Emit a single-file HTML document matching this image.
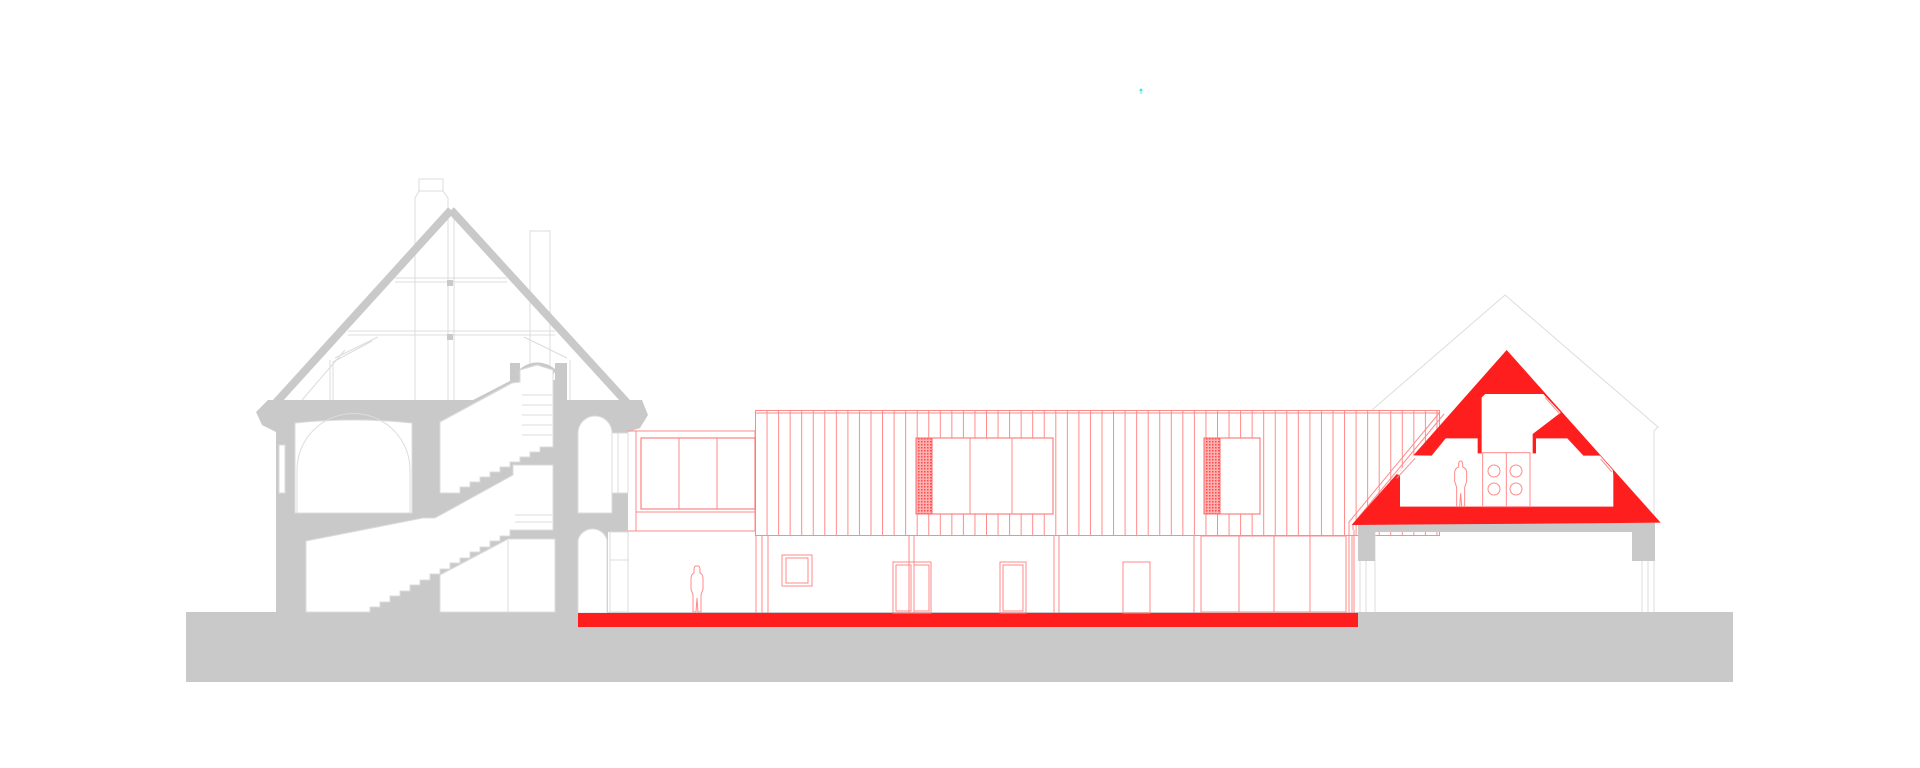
<!DOCTYPE html>
<html><head><meta charset="utf-8"><style>
html,body{margin:0;padding:0;background:#fff;width:1920px;height:768px;overflow:hidden}
svg{display:block}
</style></head><body>
<svg width="1920" height="768" viewBox="0 0 1920 768" xmlns="http://www.w3.org/2000/svg">
<defs>
<pattern id="st" patternUnits="userSpaceOnUse" x="755" y="0" width="11.55" height="10">
<line x1="0.5" y1="0" x2="0.5" y2="10" stroke="#ff8a8a" stroke-width="1"/>
</pattern>
<pattern id="ht" patternUnits="userSpaceOnUse" width="3" height="3">
<rect width="3" height="3" fill="#ffb0b0"/><rect width="1.5" height="1.5" fill="#ff4a4a"/>
</pattern>
</defs>

<!-- ground -->
<rect x="186" y="612" width="1547" height="70" fill="#c9c9c9"/>

<!-- LEFT OLD BUILDING -->
<g stroke="#dcdcdc" fill="none" stroke-width="1">
<polyline points="415,400 415,198 419,191 419,179 443,179 443,191 448,198 448,400"/>
<line x1="419" y1="191" x2="443" y2="191"/>
<rect x="530" y="231" width="20" height="165"/>
<line x1="395" y1="278" x2="507" y2="278"/><line x1="395" y1="282" x2="507" y2="282"/>
<line x1="348" y1="331" x2="555" y2="331"/><line x1="348" y1="335" x2="555" y2="335"/>
<line x1="448" y1="212" x2="448" y2="400"/><line x1="454" y1="212" x2="454" y2="400"/>
<line x1="378" y1="337" x2="335" y2="358"/><line x1="372" y1="341" x2="333" y2="362"/>
<line x1="330" y1="360" x2="330" y2="400"/><line x1="333" y1="362" x2="333" y2="400"/>
<line x1="524" y1="337" x2="567" y2="358"/>
<line x1="302" y1="400" x2="345" y2="350"/>
<line x1="570" y1="360" x2="570" y2="400"/>
</g>
<g stroke="#c9c9c9" stroke-width="8" stroke-linecap="butt" fill="none">
<line x1="451" y1="210" x2="262" y2="418"/>
<line x1="451" y1="210" x2="641" y2="418"/>
</g>
<rect x="447" y="280" width="6" height="6" fill="#c9c9c9"/>
<rect x="447" y="334" width="6" height="6" fill="#c9c9c9"/>

<polygon fill="#c9c9c9" points="256,412 268,400 473,400 510,381 510,363 520,363 520,380 555,380 555,363 567,363 567,400 642,400 648,415 640,428 628,432 628,532 608,532 608,613 276,613 276,432 262,425"/>
<path d="M520,372 Q537,358 555,372" stroke="#c9c9c9" stroke-width="5" fill="none"/>

<g fill="#fff" stroke="#dcdcdc" stroke-width="1">
<path d="M295,423 Q353,417 412,423 L412,513 L295,513 Z"/>
<path d="M297,513 L297,470 A56,56 0 0 1 410,470 L410,513" fill="none"/>
<polygon points="440,422 512,383 520,382 520,370 537,365 553,370 553,447 540,447 540,452 530,452 530,457 520,457 520,462 510,462 510,467 500,467 500,472 490,472 490,477 480,477 480,482 470,482 470,487 460,487 460,493 440,493"/>
<polygon points="306,541 423,518 435,518 513,475 513,465 553,465 553,530 510,530 510,536 500,536 500,541 490,541 490,547 480,547 480,552 470,552 470,558 460,558 460,563 450,563 450,569 440,569 440,574 430,574 430,580 420,580 420,585 410,585 410,591 400,591 400,596 390,596 390,602 380,602 380,607 370,607 370,612 306,612"/>
<polygon points="440,575 508,539 555,539 555,612 440,612"/>
<path d="M578,513 L578,433 A17,17 0 0 1 612,433 L612,513 Z"/>
<path d="M578,613 L578,540 A15,15 0 0 1 607,540 L607,613 Z"/>
<rect x="612" y="433" width="16" height="60"/>
<rect x="279" y="445" width="6" height="48"/>
</g>
<g stroke="#dcdcdc" stroke-width="1">
<line x1="522" y1="395" x2="552" y2="395"/><line x1="522" y1="405" x2="552" y2="405"/><line x1="522" y1="415" x2="552" y2="415"/><line x1="522" y1="425" x2="552" y2="425"/><line x1="522" y1="435" x2="552" y2="435"/>
<line x1="515" y1="515" x2="552" y2="515"/><line x1="515" y1="522" x2="552" y2="522"/>
<line x1="508" y1="540" x2="508" y2="612"/>
<line x1="618" y1="433" x2="618" y2="493"/>
<rect x="610" y="532" width="18" height="80" fill="none"/>
<line x1="610" y1="560" x2="628" y2="560"/>
</g>

<!-- RED SLAB -->
<rect x="578" y="613" width="780" height="14" fill="#ff1e1e"/>

<!-- MIDDLE VOLUME -->
<rect x="755" y="410" width="685" height="126" fill="url(#st)"/>
<g fill="none" stroke="#ff8a8a" stroke-width="1">
<rect x="755.5" y="410.5" width="684" height="125"/>
<line x1="755" y1="413" x2="1440" y2="413"/>
</g>
<rect x="916" y="438" width="137" height="76" fill="#fff" stroke="#ff6a6a"/>
<rect x="916" y="438" width="16" height="76" fill="url(#ht)" stroke="#ff6a6a"/>
<line x1="970" y1="438" x2="970" y2="514" stroke="#ff8a8a"/>
<line x1="1012" y1="438" x2="1012" y2="514" stroke="#ff8a8a"/>
<rect x="1204" y="438" width="56" height="76" fill="#fff" stroke="#ff6a6a"/>
<rect x="1204" y="438" width="16" height="76" fill="url(#ht)" stroke="#ff6a6a"/>
<g fill="#fff" stroke="#ff8a8a" stroke-width="1">
<rect x="636" y="431" width="119" height="100"/>
<rect x="641" y="438" width="114" height="71" stroke="#ff6a6a"/>
</g>
<g stroke="#ff8a8a" stroke-width="1">
<line x1="679" y1="438" x2="679" y2="509"/><line x1="717" y1="438" x2="717" y2="509"/>
<line x1="636" y1="512" x2="755" y2="512"/>
<line x1="628" y1="431" x2="636" y2="431"/>
<line x1="628" y1="531" x2="636" y2="531"/>
</g>
<!-- lower floor -->
<g stroke="#ff8a8a" stroke-width="1" fill="none">
<line x1="756" y1="536" x2="756" y2="613"/><line x1="762" y1="536" x2="762" y2="613"/><line x1="768" y1="536" x2="768" y2="613"/>
<line x1="909" y1="536" x2="909" y2="613"/><line x1="914" y1="536" x2="914" y2="613"/>
<line x1="1054" y1="536" x2="1054" y2="613"/><line x1="1059" y1="536" x2="1059" y2="613"/>
<line x1="1194" y1="536" x2="1194" y2="613"/><line x1="1201" y1="536" x2="1201" y2="613"/>
<line x1="1346" y1="536" x2="1346" y2="613"/><line x1="1352" y1="536" x2="1352" y2="613"/>
<rect x="1201" y="536" width="145" height="76"/>
<line x1="1239" y1="536" x2="1239" y2="612"/><line x1="1274" y1="536" x2="1274" y2="612"/><line x1="1310" y1="536" x2="1310" y2="612"/>
<rect x="782" y="555" width="30" height="31"/><rect x="786" y="558" width="22" height="25"/>
<rect x="893" y="562" width="38" height="51"/><rect x="896" y="565" width="15" height="46"/><rect x="914" y="565" width="15" height="46"/>
<rect x="1000" y="562" width="26" height="51"/><rect x="1003" y="565" width="20" height="46"/>
<rect x="1123" y="562" width="27" height="51"/>
<path d="M696,566 q-2,0 -2,4 l0,3 q-3,1 -3,6 l0,10 l2,6 l0,17 l3,0 l1,-14 l1,14 l3,0 l0,-17 l2,-6 l0,-10 q0,-5 -3,-6 l0,-3 q0,-4 -2,-4 z"/>
</g>

<!-- RIGHT BUILDING -->
<g stroke="#dcdcdc" fill="none" stroke-width="1">
<polyline points="1372,410 1505,295 1658,427 1654,431 1654,612"/>
<line x1="1360" y1="532" x2="1360" y2="612"/><line x1="1366" y1="532" x2="1366" y2="612"/><line x1="1375" y1="532" x2="1375" y2="612"/>
<line x1="1642" y1="532" x2="1642" y2="612"/><line x1="1648" y1="532" x2="1648" y2="612"/>
</g>
<g fill="#c9c9c9">
<rect x="1358" y="523" width="297" height="9"/>
<rect x="1358" y="523" width="17" height="38"/>
<rect x="1632" y="523" width="23" height="38"/>
</g>
<g stroke="#ff8a8a" fill="none" stroke-width="1">
<polyline points="1349,527 1349,522 1440,412"/>
<polyline points="1353,530 1353,524 1444,414"/>
<line x1="1349" y1="527" x2="1349" y2="613"/><line x1="1354" y1="530" x2="1354" y2="613"/>
</g>
<g transform="translate(1330,280) scale(0.33333)">
<polygon points="530,210 992,728 65,735" fill="#ff1e1e"/>
<polygon fill="#fff" points="210,680 210,585 200,583 250,526 305,527 347,475 443,475 443,520 455,520 455,352 466,342 640,342 692,398 608,462 608,520 618,520 618,475 712,475 760,527 810,527 848,570 850,585 850,680"/>
<g stroke="#ff8a8a" stroke-width="3" fill="none">
<line x1="200" y1="595" x2="255" y2="535"/>
<line x1="645" y1="352" x2="690" y2="402"/>
<line x1="812" y1="537" x2="845" y2="575"/>
<rect x="458" y="518" width="142" height="162"/>
<line x1="529" y1="518" x2="529" y2="680"/>
<circle cx="492" cy="573" r="18"/><circle cx="558" cy="573" r="18"/>
<circle cx="492" cy="627" r="18"/><circle cx="558" cy="627" r="18"/>
<path d="M392,543 q-6,0 -6,10 l0,8 q-10,3 -12,15 l0,28 l6,18 l0,58 l9,0 l3,-40 l3,40 l9,0 l0,-58 l6,-18 l0,-28 q-2,-12 -12,-15 l0,-8 q0,-10 -6,-10 z"/>
</g>
</g>

<path d="M1141,88 l-2,3 l1.5,0 l0,3 l1,0 l0,-3 l1.5,0 z" fill="#4fe0e0"/>
</svg>
</body></html>
